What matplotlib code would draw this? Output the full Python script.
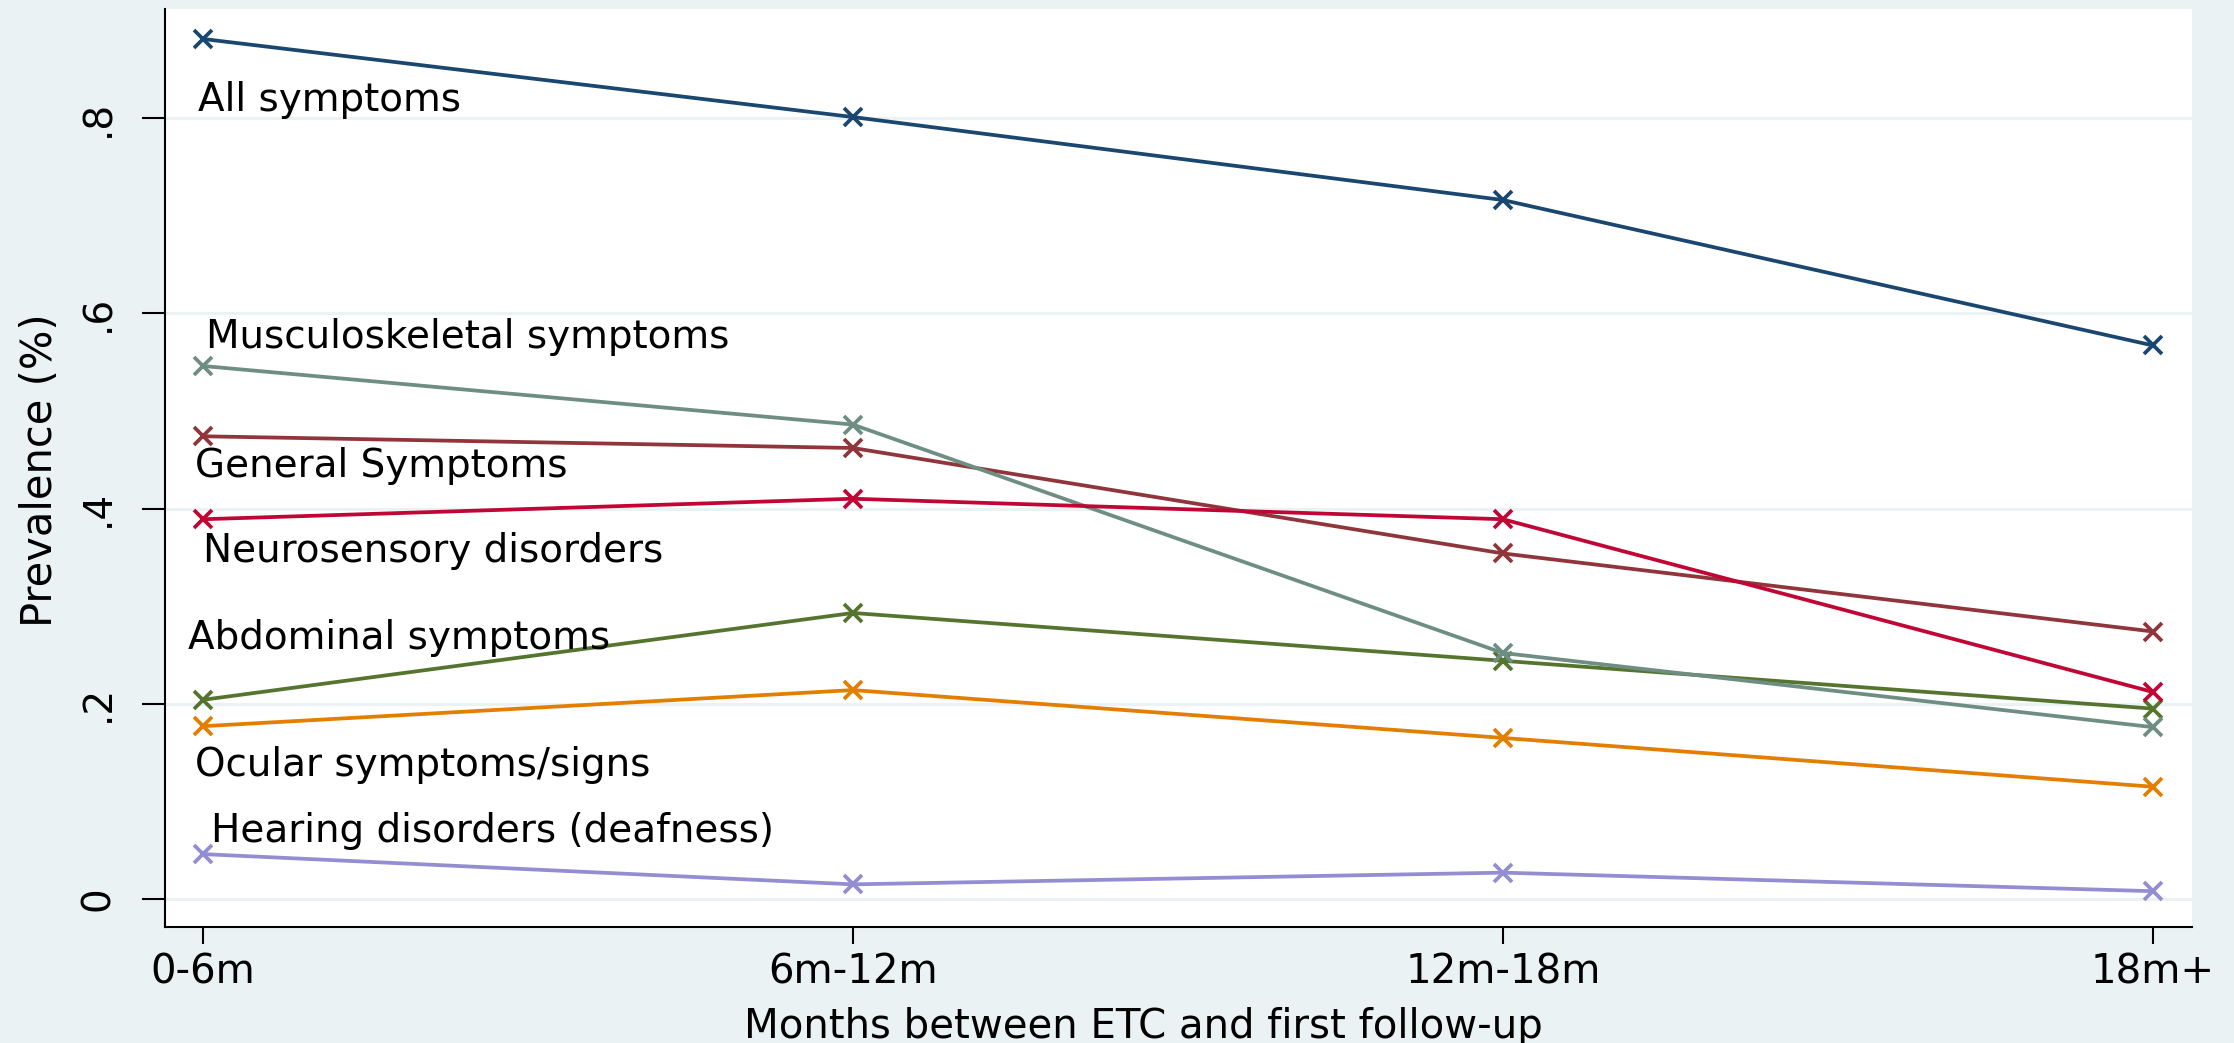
"""Prevalence of symptom groups by months between ETC and first follow-up (Stata s2color look)."""

import matplotlib

matplotlib.use("Agg")
import matplotlib.pyplot as plt

# --- data -----------------------------------------------------------------
periods = ["0-6m", "6m-12m", "12m-18m", "18m+"]

all_symptoms = [0.881, 0.801, 0.716, 0.567]
general_symptoms = [0.474, 0.462, 0.354, 0.274]
abdominal_symptoms = [0.204, 0.293, 0.244, 0.195]
ocular_symptoms = [0.177, 0.214, 0.165, 0.115]
musculoskeletal_symptoms = [0.546, 0.486, 0.252, 0.176]
neurosensory_disorders = [0.389, 0.410, 0.389, 0.212]
hearing_disorders = [0.046, 0.015, 0.027, 0.008]

y_ticks = [0, 0.2, 0.4, 0.6, 0.8]
y_tick_labels = ["0", ".2", ".4", ".6", ".8"]

# --- style ----------------------------------------------------------------
BG = "#EAF2F3"  # Stata ltbluishgray
# draw order = Stata s2color palette order (navy, maroon, forest green, ...)
series = [
    ("All symptoms", all_symptoms, "#1A476F"),
    ("General Symptoms", general_symptoms, "#90353B"),
    ("Abdominal symptoms", abdominal_symptoms, "#55752F"),
    ("Ocular symptoms/signs", ocular_symptoms, "#E37E00"),
    ("Musculoskeletal symptoms", musculoskeletal_symptoms, "#6E8E84"),
    ("Neurosensory disorders", neurosensory_disorders, "#C10534"),
    ("Hearing disorders (deafness)", hearing_disorders, "#938DD2"),
]

# text label anchors near the first period: (x in category units, baseline y)
label_anchor = {
    "All symptoms": (-0.007, 0.807),
    "Musculoskeletal symptoms": (0.005, 0.564),
    "General Symptoms": (-0.012, 0.432),
    "Neurosensory disorders": (0.0, 0.345),
    "Abdominal symptoms": (-0.022, 0.256),
    "Ocular symptoms/signs": (-0.012, 0.126),
    "Hearing disorders (deafness)": (0.013, 0.058),
}

plt.rcParams["font.family"] = ["DejaVu Sans"]

fig = plt.figure(figsize=(22.34, 10.43), dpi=100, facecolor=BG)
ax = fig.add_axes([0.0739, 0.1112, 0.9073, 0.8802])
ax.set_facecolor("white")

xs = list(range(len(periods)))
for name, values, color in series:
    ax.plot(xs, values, color=color, lw=2.7, marker="x", ms=13, mew=2.7, zorder=3)
    lx, ly = label_anchor[name]
    ax.text(lx, ly, name, fontsize=28, va="baseline", ha="left", color="black", zorder=4)

ax.set_xlim(-0.058, 3.06)
ax.set_ylim(-0.0287, 0.9117)

ax.set_xticks(xs, periods)
ax.set_yticks(y_ticks, y_tick_labels)
ax.tick_params(axis="x", length=12, width=1.5, pad=6, labelsize=29)
ax.tick_params(axis="y", length=16.5, width=1.5, pad=18, labelsize=28, labelrotation=90)
for lab in ax.get_yticklabels():
    lab.set_va("center")

ax.yaxis.grid(True, color=BG, lw=2.2)
ax.set_axisbelow(True)

for side in ("top", "right"):
    ax.spines[side].set_visible(False)
for side in ("left", "bottom"):
    ax.spines[side].set_linewidth(1.5)

ax.set_xlabel("Months between ETC and first follow-up", fontsize=29, va="baseline")
ax.xaxis.set_label_coords(0.4825, -0.1209)
ax.set_ylabel("Prevalence (%)", fontsize=30, va="center")
ax.yaxis.set_label_coords(-0.0617, 0.498)

fig.savefig("out.png", dpi=100, facecolor=BG)
